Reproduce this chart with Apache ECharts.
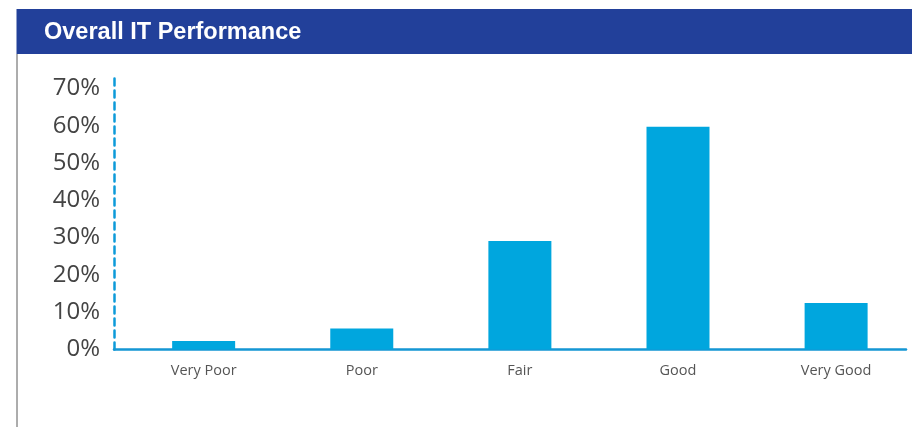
<!DOCTYPE html>
<html>
<head>
<meta charset="utf-8">
<title>Overall IT Performance</title>
<script src="https://cdn.jsdelivr.net/npm/echarts@6/dist/echarts.min.js"></script>
<style>
  html, body { margin: 0; padding: 0; background: #ffffff; }
  #chart { width: 912px; height: 427px; }
</style>
</head>
<body>
<div id="chart"></div>
<script>
// Survey ratings and the share of responses (percent) in each
const categories = ['Very Poor', 'Poor', 'Fair', 'Good', 'Very Good'];
const shares = [2.3, 5.6, 29.1, 59.7, 12.5];
const yTicks = [0, 10, 20, 30, 40, 50, 60, 70];

const chart = echarts.init(document.getElementById('chart'), null, { renderer: 'canvas' });

chart.setOption({
  animation: false,
  backgroundColor: '#ffffff',
  graphic: [
    {
      type: 'rect',
      z: -1,
      shape: { x: 16.5, y: 9, width: 896, height: 45 },
      style: { fill: '#22409a' }
    },
    {
      type: 'line',
      z: -1,
      shape: { x1: 17, y1: 54, x2: 17, y2: 427 },
      style: { stroke: '#5a5a5a', lineWidth: 1 }
    }
  ],
  title: {
    text: 'Overall IT Performance',
    left: 44,
    top: 20.5,
    padding: 0,
    textStyle: {
      color: '#ffffff',
      fontFamily: '"Liberation Sans", Arial, sans-serif',
      fontWeight: 'bold',
      fontSize: 23.5,
      lineHeight: 23.5
    }
  },
  grid: { left: 114, right: 6, top: 73.5, bottom: 77.5, containLabel: false },
  xAxis: {
    type: 'value',
    min: -0.567,
    max: 4.442,
    splitLine: { show: false },
    axisTick: { show: false },
    axisLine: {
      show: true,
      onZero: false,
      lineStyle: { color: '#1596d4', width: 2.5 }
    },
    axisLabel: {
      customValues: categories.map((c, i) => i),
      formatter: (v) => categories[Math.round(v)] || '',
      margin: 14,
      color: '#555555',
      fontFamily: '"Open Sans", "Noto Sans", sans-serif',
      fontSize: 14.5
    }
  },
  yAxis: {
    type: 'value',
    min: 0,
    max: 74,
    interval: 10,
    splitLine: { show: false },
    axisTick: { show: false },
    axisLine: {
      show: true,
      onZero: false,
      lineStyle: { color: '#0c9ad9', width: 2.5, type: [7, 5] }
    },
    axisLabel: {
      showMaxLabel: false,
      margin: 14,
      formatter: (v) => (yTicks.includes(v) ? v + '%' : ''),
      color: '#444444',
      fontFamily: '"Open Sans", "Noto Sans", sans-serif',
      fontSize: 24
    }
  },
  series: [
    {
      type: 'bar',
      data: categories.map((c, i) => [i, shares[i]]),
      barWidth: 63,
      itemStyle: { color: '#00a6de' }
    }
  ]
});
</script>
</body>
</html>
